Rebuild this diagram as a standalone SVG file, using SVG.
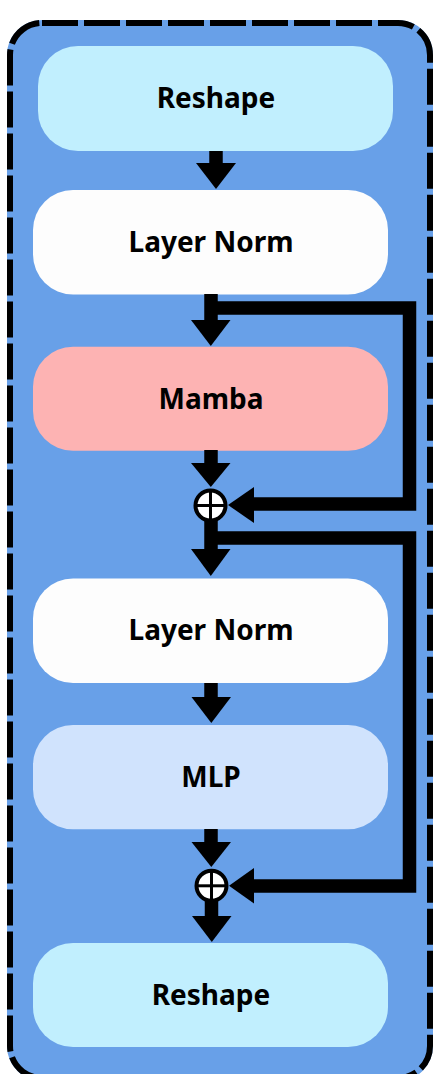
<svg xmlns="http://www.w3.org/2000/svg" width="438" height="1074" viewBox="0 0 438 1074">
<style>
.lbl{font-family:"Noto Sans","Liberation Sans",sans-serif;font-weight:700;font-size:28px;fill:#000;text-anchor:middle}
.line{fill:none;stroke:#000;stroke-width:13.5;stroke-linejoin:miter;stroke-linecap:butt}
.head{fill:#000}
.sum{fill:#fff;stroke:#000;stroke-width:4}
.cross{stroke:#000;stroke-width:3}
</style>
<g id="container">
<rect x="10" y="23" width="420" height="1055" rx="32" ry="32" fill="#68A0E8" stroke="#68A0E8" stroke-width="6"/>
<rect x="10" y="23" width="420" height="1055" rx="32" ry="32" fill="none" stroke="#000" stroke-width="6" stroke-dasharray="36 6"/>
</g>
<g id="reshape1"><rect x="38" y="46" width="355" height="105" rx="40" fill="#C1EFFE"/><text class="lbl" x="216" y="108.3">Reshape</text></g>
<g id="layernorm1"><rect x="33" y="190" width="355" height="104.5" rx="40" fill="#FDFDFD"/><text class="lbl" x="211" y="251.7">Layer Norm</text></g>
<g id="mamba"><rect x="33" y="346.7" width="355" height="104" rx="40" fill="#FDB3B3"/><text class="lbl" x="211" y="409.3">Mamba</text></g>
<g id="layernorm2"><rect x="33" y="578.5" width="355" height="104.5" rx="40" fill="#FDFDFD"/><text class="lbl" x="211" y="640">Layer Norm</text></g>
<g id="mlp"><rect x="33" y="725" width="355" height="104.3" rx="40" fill="#D0E3FD"/><text class="lbl" x="211" y="787.3">MLP</text></g>
<g id="reshape2"><rect x="33" y="943" width="355" height="104" rx="40" fill="#C1EFFE"/><text class="lbl" x="211" y="1005">Reshape</text></g>
<g id="sum1"><circle class="sum" cx="210.5" cy="505.5" r="15"/><line class="cross" x1="195.5" y1="505.5" x2="225.5" y2="505.5"/><line class="cross" x1="210.5" y1="490.5" x2="210.5" y2="520.5"/></g>
<g id="sum2"><circle class="sum" cx="211.5" cy="885.8" r="15"/><line class="cross" x1="196.5" y1="885.8" x2="226.5" y2="885.8"/><line class="cross" x1="211.5" y1="870.8" x2="211.5" y2="900.8"/></g>
<g id="connectors">
<path class="line" d="M216,151 V164"/><polygon class="head" points="196,163 236,163 216,189"/>
<path class="line" d="M211,294 V321"/><polygon class="head" points="191,320 230.5,320 210.8,346"/>
<path class="line" d="M211,308 H409.5 V504 H254"/><polygon class="head" points="254,487 254,523 228,505"/>
<path class="line" d="M211,450 V464"/><polygon class="head" points="191,463 230.5,463 210.8,487"/>
<path class="line" d="M211,520 V550"/><polygon class="head" points="191,549 230.5,549 210.8,576"/>
<path class="line" d="M211,538 H409.5 V886 H254"/><polygon class="head" points="254,868 254,903.5 229,885.8"/>
<path class="line" d="M211,683 V698"/><polygon class="head" points="191.5,697 231,697 211.3,723"/>
<path class="line" d="M211,829 V843"/><polygon class="head" points="191.5,842 231,842 211.3,867"/>
<path class="line" d="M211.5,900 V917"/><polygon class="head" points="192,916 231.5,916 211.8,942"/>
</g>
</svg>
